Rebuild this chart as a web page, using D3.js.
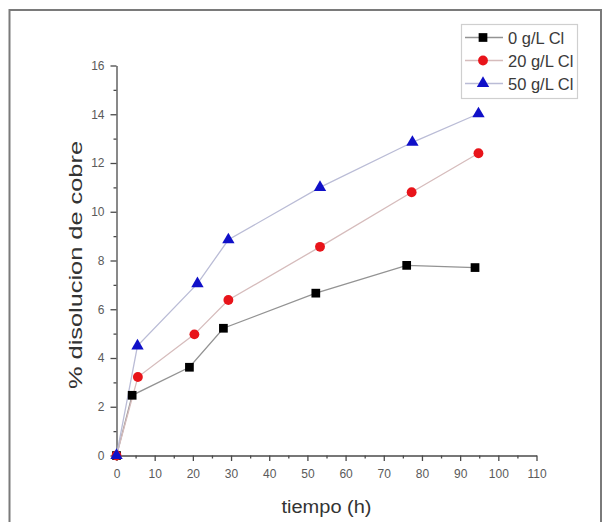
<!DOCTYPE html>
<html>
<head>
<meta charset="utf-8">
<script src="https://cdn.jsdelivr.net/npm/d3@7"></script>
<style>
  html, body { margin: 0; padding: 0; background: #fff; }
  svg { display: block; font-family: "Liberation Sans", Arial, sans-serif; }
</style>
</head>
<body>
<svg id="chart" width="607" height="522"></svg>
<script>
// ---- Data ----
const seriesNames = ["0 g/L Cl", "20 g/L Cl", "50 g/L Cl"];
const time0  = [0, 4.1, 19.1, 28.0, 52.2, 76.0, 93.9];
const cu0    = [0, 2.47, 3.62, 5.22, 6.66, 7.80, 7.71];
const time20 = [0, 5.6, 20.4, 29.3, 53.3, 77.3, 94.8];
const cu20   = [0, 3.22, 4.97, 6.38, 8.56, 10.80, 12.40];
const time50 = [0, 5.5, 21.2, 29.3, 53.3, 77.5, 94.8];
const cu50   = [0, 4.50, 7.05, 8.85, 11.00, 12.85, 14.02];
const xMajorTicks = [0, 10, 20, 30, 40, 50, 60, 70, 80, 90, 100, 110];
const yMajorTicks = [0, 2, 4, 6, 8, 10, 12, 14, 16];
const xTitle = "tiempo (h)";
const yTitle = "% disolucion de cobre";

// ---- Styles ----
const markerColors = ["#000000", "#e8141a", "#1010c8"];
const lineColors = ["#939393", "#d6bcbc", "#babcd6"];
const symbols = [d3.symbolSquare, d3.symbolCircle, d3.symbolTriangle];
const symbolSizes = [76, 76, 66];

const svg = d3.select("#chart");
svg.append("rect").attr("width", 607).attr("height", 522).attr("fill", "#fff");

// outer frame
svg.append("path")
  .attr("d", "M9.5,540 L9.5,10 L601,10 L601,540")
  .attr("fill", "none").attr("stroke", "#7a7a7a").attr("stroke-width", 2);

const x = d3.scaleLinear().domain([0, 110]).range([116.5, 536.5]);
const y = d3.scaleLinear().domain([0, 16]).range([455.5, 65.5]);

const axisColor = "#4a4a4a";
const labelColor = "#5a5a5a";

// minor ticks
const xMinor = d3.range(5, 110, 10);
const yMinor = d3.range(1, 16, 2);

const gx = svg.append("g").attr("transform", `translate(0,${y(0)})`);
gx.call(d3.axisBottom(x).tickValues(xMinor).tickSize(3).tickFormat(""));
gx.call(g => g.selectAll(".domain").remove());
const gx2 = svg.append("g").attr("transform", `translate(0,${y(0)})`)
  .call(d3.axisBottom(x).tickValues(xMajorTicks).tickSize(5.5).tickSizeOuter(0).tickPadding(8).tickFormat(d3.format("d")));
[gx, gx2].forEach(g => {
  g.selectAll("line").attr("stroke", axisColor).attr("stroke-width", 1.3);
  g.selectAll("path").attr("stroke", axisColor).attr("stroke-width", 1.3);
  g.selectAll("text").attr("fill", labelColor).attr("font-size", 12).attr("font-family", "Liberation Sans, Arial, sans-serif");
});

const gy = svg.append("g").attr("transform", `translate(${x(0)},0)`);
gy.call(d3.axisLeft(y).tickValues(yMinor).tickSize(3).tickFormat(""));
gy.call(g => g.selectAll(".domain").remove());
const gy2 = svg.append("g").attr("transform", `translate(${x(0)},0)`)
  .call(d3.axisLeft(y).tickValues(yMajorTicks).tickSize(6).tickSizeOuter(0).tickPadding(6).tickFormat(d3.format("d")));
[gy, gy2].forEach(g => {
  g.selectAll("line").attr("stroke", axisColor).attr("stroke-width", 1.3);
  g.selectAll("path").attr("stroke", axisColor).attr("stroke-width", 1.3);
  g.selectAll("text").attr("fill", labelColor).attr("font-size", 12).attr("font-family", "Liberation Sans, Arial, sans-serif");
});

// titles
svg.append("text")
  .attr("x", 326.5).attr("y", 513)
  .attr("text-anchor", "middle")
  .attr("font-size", 18).attr("fill", "#333")
  .attr("textLength", 90).attr("lengthAdjust", "spacingAndGlyphs")
  .text(xTitle);

svg.append("text")
  .attr("transform", "translate(82,265) rotate(-90)")
  .attr("text-anchor", "middle")
  .attr("font-size", 19).attr("fill", "#333")
  .attr("textLength", 248).attr("lengthAdjust", "spacingAndGlyphs")
  .text(yTitle);

// series
const series = [
  { xs: time0, ys: cu0 },
  { xs: time20, ys: cu20 },
  { xs: time50, ys: cu50 }
];
const line = d3.line().x(d => x(d[0])).y(d => y(d[1]));

series.forEach((s, i) => {
  const pts = s.xs.map((t, j) => [t, s.ys[j]]);
  svg.append("path")
    .datum(pts)
    .attr("d", line)
    .attr("fill", "none")
    .attr("stroke", lineColors[i])
    .attr("stroke-width", 1.3);
});
series.forEach((s, i) => {
  const pts = s.xs.map((t, j) => [t, s.ys[j]]);
  svg.append("g").selectAll("path")
    .data(pts)
    .join("path")
    .attr("transform", d => `translate(${x(d[0])},${y(d[1])})`)
    .attr("d", d3.symbol().type(symbols[i]).size(symbolSizes[i]))
    .attr("fill", markerColors[i]);
});

// legend
const lg = svg.append("g");
lg.append("rect")
  .attr("x", 461.5).attr("y", 24.5).attr("width", 116).attr("height", 74)
  .attr("fill", "#fff").attr("stroke", "#cfcfcf").attr("stroke-width", 1.2);
const rowY = [37.5, 60.5, 83.5];
seriesNames.forEach((name, i) => {
  lg.append("line")
    .attr("x1", 465).attr("x2", 503).attr("y1", rowY[i]).attr("y2", rowY[i])
    .attr("stroke", lineColors[i]).attr("stroke-width", 1.3);
  lg.append("path")
    .attr("transform", `translate(483,${rowY[i]})`)
    .attr("d", d3.symbol().type(symbols[i]).size(symbolSizes[i]))
    .attr("fill", markerColors[i]);
  lg.append("text")
    .attr("x", 508).attr("y", rowY[i] + 6)
    .attr("font-size", 16.5).attr("fill", "#3a3a3a")
    .text(name);
});
</script>
</body>
</html>
